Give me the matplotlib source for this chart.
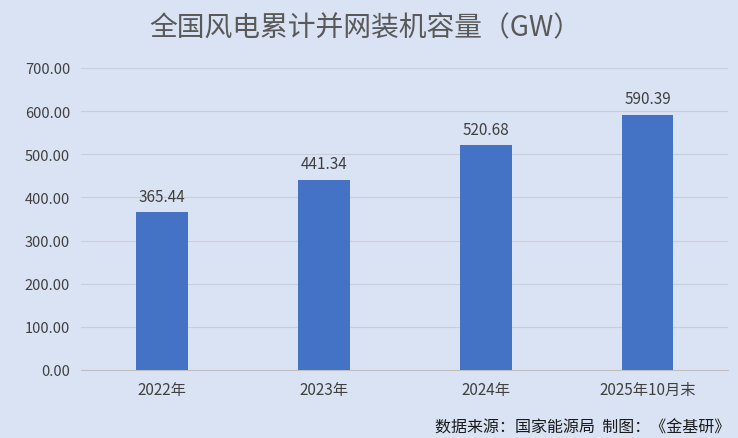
import matplotlib
matplotlib.use("Agg")
import matplotlib.pyplot as plt

plt.rcParams['font.family'] = ['Noto Sans CJK SC', 'DejaVu Sans']

categories = ["2022年", "2023年", "2024年", "2025年10月末"]
values = [365.44, 441.34, 520.68, 590.39]
yticks = [0, 100, 200, 300, 400, 500, 600, 700]

bg = "#DAE3F3"
fig = plt.figure(figsize=(7.38, 4.39), dpi=100, facecolor=bg)
ax = fig.add_axes([0.110, 0.155, 0.877, 0.688], facecolor=bg)
x = range(len(categories))
ax.bar(x, values, width=0.32, color="#4472C4", zorder=3)
for i, v in zip(x, values):
    ax.text(i, v + 18, f"{v:.2f}", ha="center", va="bottom", fontsize=11, color="#404040")
ax.set_xlim(-0.5, 3.5)
ax.set_ylim(0, 700)
ax.set_yticks(yticks)
ax.set_yticklabels([f"{t:.2f}" for t in yticks], fontsize=10.5, color="#404040")
ax.set_xticks(list(x))
ax.set_xticklabels(categories, fontsize=11, color="#404040")
ax.grid(axis="y", color="#C8CFDC", linewidth=0.8, zorder=0)
for s in ["top", "right", "left"]:
    ax.spines[s].set_visible(False)
ax.spines["bottom"].set_color("#BFBFBF")
ax.tick_params(length=0, pad=8)
fig.text(0.495, 0.935, "全国风电累计并网装机容量（GW）", ha="center", va="center", fontsize=20, color="#595959")
fig.text(0.99, 0.025, "数据来源：国家能源局  制图：《金基研》", ha="right", va="center", fontsize=11.5, color="#1a1a1a")
fig.savefig("out.png", dpi=100, facecolor=bg)
